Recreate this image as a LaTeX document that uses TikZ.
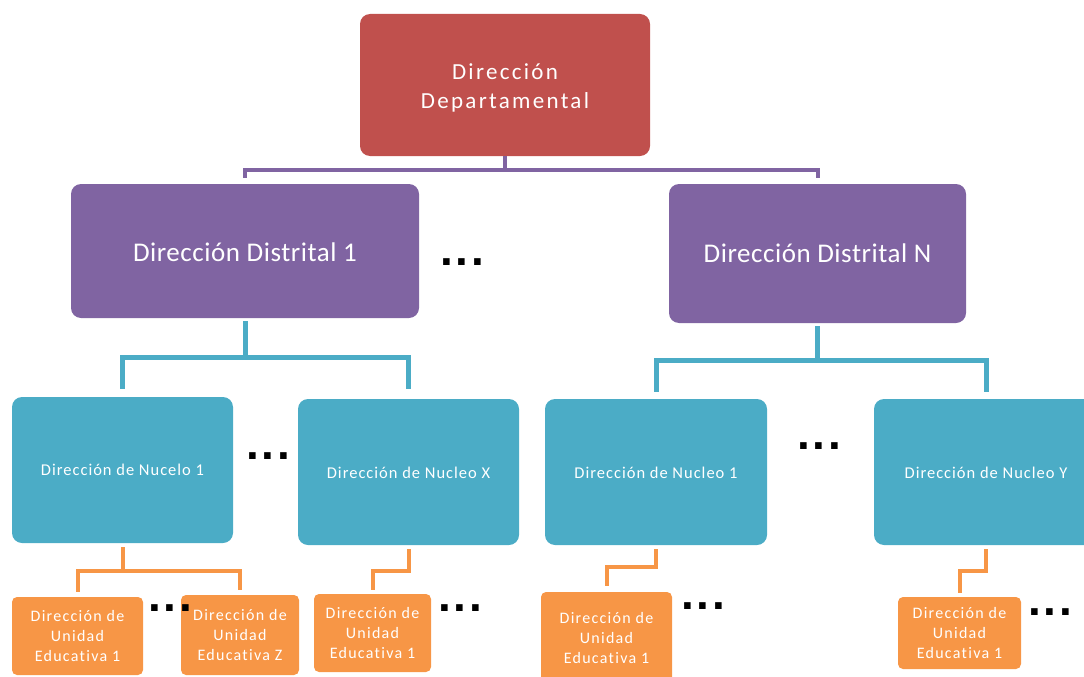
\documentclass[tikz,border=0pt]{standalone}
\usepackage{fontspec}
\setmainfont{Carlito}[Ligatures=NoCommon]
\newfontfamily\topfont[LetterSpace=10,Ligatures=NoCommon]{Carlito}
\newfontfamily\distfont[LetterSpace=2,Ligatures=NoCommon]{Carlito}
\newfontfamily\nucfont[LetterSpace=6,Ligatures=NoCommon]{Carlito}
\newfontfamily\unitfont[LetterSpace=8,Ligatures=NoCommon]{Carlito}
\newfontfamily\dotfont[LetterSpace=6]{Liberation Sans}

\definecolor{cRed}{HTML}{C0504D}
\definecolor{cPurple}{HTML}{8064A2}
\definecolor{cBlue}{HTML}{4BACC6}
\definecolor{cOrange}{HTML}{F79646}

% lower a label inside its box while keeping the box size
\newcommand{\lowered}[2]{\raisebox{-#1}[\height][\depth]{#2}}

\tikzset{
  orgbox/.style={rectangle, text=white, align=center, inner sep=0pt},
  depbox/.style={orgbox, fill=cRed, rounded corners=10pt,
    font=\topfont\fontsize{23}{30}\selectfont},
  distbox/.style={orgbox, fill=cPurple, rounded corners=10pt,
    font=\distfont\fontsize{27}{32}\selectfont},
  nucbox/.style={orgbox, fill=cBlue, rounded corners=10pt,
    font=\nucfont\fontsize{16.5}{20}\selectfont},
  unitbox/.style={orgbox, fill=cOrange, rounded corners=5pt,
    font=\unitfont\fontsize{16}{20}\selectfont},
  ellip/.style={inner sep=0pt, text=black, font=\dotfont\bfseries\fontsize{46}{46}\selectfont},
  purline/.style={draw=cPurple, line width=4pt},
  bluline/.style={draw=cBlue, line width=5pt},
  orline/.style={draw=cOrange, line width=4pt},
}

\begin{document}
\begin{tikzpicture}[x=1pt, y=-1pt]
\useasboundingbox (0,0) rectangle (1084,677);

% top level
\node[depbox, minimum width=290pt, minimum height=142pt] (dep) at (505,85)
  {\lowered{3pt}{\begin{tabular}{@{}c@{}}Dirección\\Departamental\end{tabular}}};

% district level
\node[distbox, minimum width=348pt, minimum height=134pt] (d1) at (245,251)
  {\lowered{1.5pt}{Dirección Distrital 1}};
\node[distbox, minimum width=297pt, minimum height=139pt] (dn) at (817.5,253.5)
  {Dirección Distrital N};
\node[ellip] (dd) at (462,262) {...};

% nucleus level
\node[nucbox, minimum width=221pt, minimum height=146pt] (n1) at (122.5,470)
  {Dirección de Nucelo 1};
\node[nucbox, minimum width=221pt, minimum height=146pt] (nx) at (408.5,472)
  {\lowered{1pt}{Dirección de Nucleo X}};
\node[nucbox, minimum width=222pt, minimum height=146pt] (nb) at (656,472)
  {\lowered{1pt}{Dirección de Nucleo 1}};
\node[nucbox, minimum width=224pt, minimum height=146pt] (ny) at (986,472)
  {\lowered{1pt}{Dirección de Nucleo Y}};
\node[ellip] (nd1) at (268,456) {...};
\node[ellip] (nd2) at (819,446) {...};

% school units
\node[unitbox, minimum width=131pt, minimum height=78pt] (o1) at (77.5,636)
  {Dirección de\\Unidad\\Educativa 1};
\node[unitbox, minimum width=118pt, minimum height=80pt] (oz) at (240,635)
  {Dirección de\\Unidad\\Educativa Z};
\node[unitbox, minimum width=117pt, minimum height=78pt] (o3) at (372.5,633)
  {Dirección de\\Unidad\\Educativa 1};
\node[unitbox, minimum width=131pt, minimum height=92pt] (o4) at (606.5,638)
  {Dirección de\\Unidad\\Educativa 1};
\node[unitbox, minimum width=123pt, minimum height=72pt] (o5) at (959.5,633)
  {Dirección de\\Unidad\\Educativa 1};
\node[ellip] (od1) at (170,608) {...};
\node[ellip] (od2) at (460,608) {...};
\node[ellip] (od3) at (703,606) {...};
\node[ellip] (od4) at (1050,612) {...};

% purple connectors
\draw[purline] (dep.south) -- ([yshift=-14pt]dep.south) coordinate (pj);
\draw[purline] ([yshift=6pt]d1.north) |- (pj) -| ([yshift=6pt]dn.north);

% blue connectors
\draw[bluline] ([yshift=-3pt]d1.south) -- ([yshift=-39pt]d1.south) coordinate (bj1);
\draw[bluline] ([yshift=8pt]n1.north) |- (bj1) -| ([yshift=10pt]nx.north);
\draw[bluline] ([yshift=-3pt]dn.south) -- ([yshift=-37pt]dn.south) coordinate (bj2);
\draw[bluline] ([yshift=7pt]nb.north) |- (bj2) -| ([yshift=7pt]ny.north);

% orange connectors
\draw[orline] ([yshift=-4pt]n1.south) -- ([yshift=-28pt]n1.south) coordinate (oj1);
\draw[orline] ([yshift=5pt]o1.north) |- (oj1) -| ([yshift=5pt]oz.north);
\draw[orline] ([yshift=-4pt]nx.south) |- ([yshift=-26pt]nx.south) -| ([yshift=4pt]o3.north);
\draw[orline] ([yshift=-4pt]nb.south) |- ([yshift=-22pt]nb.south) -| ([yshift=6pt]o4.north);
\draw[orline] ([yshift=-4pt]ny.south) |- ([yshift=-26pt]ny.south) -| ([yshift=4pt]o5.north);
\end{tikzpicture}
\end{document}
